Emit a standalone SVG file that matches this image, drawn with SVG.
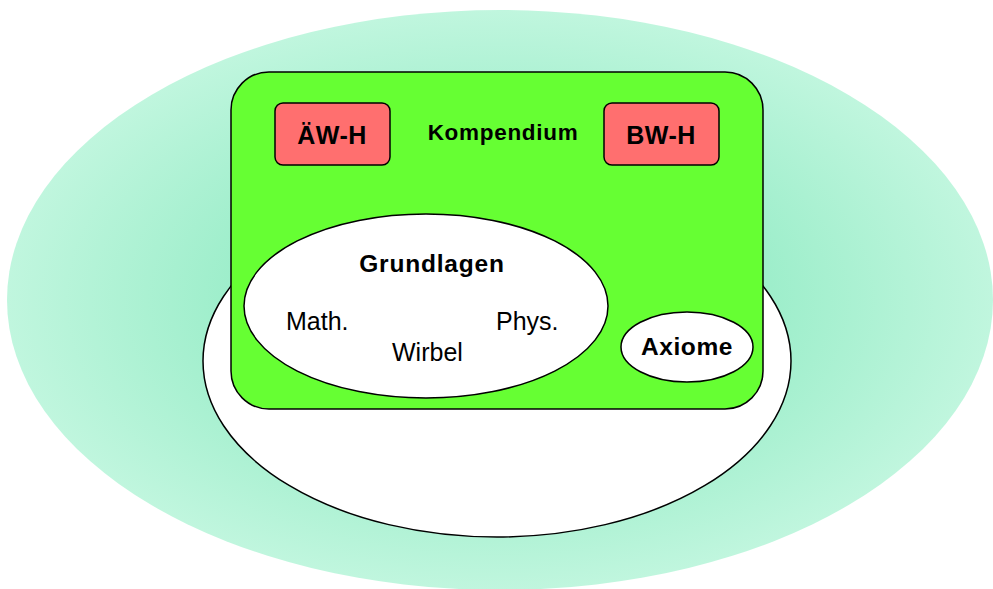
<svg xmlns="http://www.w3.org/2000/svg" width="993" height="589" viewBox="0 0 993 589">
  <defs>
    <radialGradient id="glow" cx="0.5" cy="0.5" r="0.5">
      <stop offset="0" stop-color="#8be9c0"/>
      <stop offset="0.55" stop-color="#9eeecb"/>
      <stop offset="1" stop-color="#c0f6de"/>
    </radialGradient>
  </defs>
  <style>
    .ln { stroke: #000; stroke-width: 1.5; }
    .b { font-family: "Liberation Sans", Arial, sans-serif; font-weight: bold; fill: #000; text-anchor: middle; }
    .r { font-family: "Liberation Sans", Arial, sans-serif; fill: #000; }
    .hw { fill: #ff6f6f; }
  </style>
  <g id="background">
    <ellipse cx="500" cy="300" rx="493" ry="290" fill="url(#glow)"/>
  </g>
  <g id="base">
    <ellipse class="ln" cx="497" cy="361" rx="294" ry="176" fill="#fff"/>
  </g>
  <g id="kompendium">
    <rect class="ln" x="231" y="72" width="532" height="337" rx="38" ry="38" fill="#66ff33"/>
    <text class="b" x="503" y="140" font-size="22.5" letter-spacing="0.7">Kompendium</text>
  </g>
  <g id="aew-h">
    <rect class="ln hw" x="275" y="103" width="115" height="62" rx="8" ry="8"/>
    <text class="b" x="332" y="144" font-size="25" letter-spacing="0.5">ÄW-H</text>
  </g>
  <g id="bw-h">
    <rect class="ln hw" x="604" y="103" width="115" height="62" rx="8" ry="8"/>
    <text class="b" x="661" y="144" font-size="25" letter-spacing="0.5">BW-H</text>
  </g>
  <g id="grundlagen">
    <ellipse class="ln" cx="426" cy="306" rx="182" ry="92" fill="#fff"/>
    <text class="b" x="432" y="272" font-size="24.5" letter-spacing="0.8">Grundlagen</text>
    <text class="r" x="286" y="330" font-size="25">Math.</text>
    <text class="r" x="392" y="361" font-size="25">Wirbel</text>
    <text class="r" x="496" y="330" font-size="25">Phys.</text>
  </g>
  <g id="axiome">
    <ellipse class="ln" cx="687" cy="347" rx="66" ry="35" fill="#fff"/>
    <text class="b" x="687" y="355" font-size="24.5" letter-spacing="0.6">Axiome</text>
  </g>
  <g id="connectors"/>
</svg>
